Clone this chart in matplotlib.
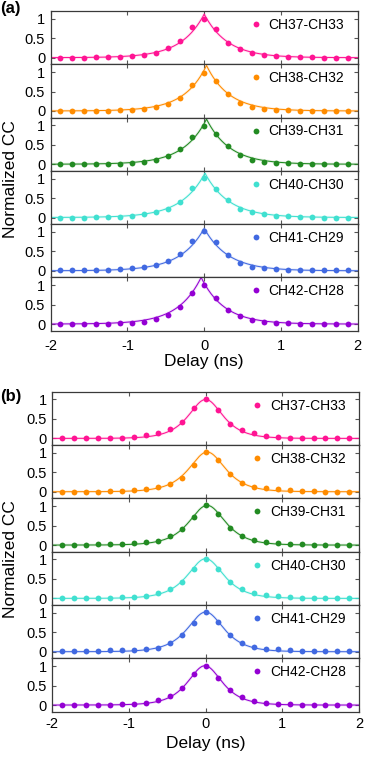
import matplotlib
matplotlib.use('Agg')
import matplotlib.pyplot as plt
import numpy as np

plt.rcParams['font.family'] = ['Liberation Sans', 'DejaVu Sans']
plt.rcParams['axes.unicode_minus'] = False

# sampling grid of the cross-correlation (6.4 GS/s)
delay = np.arange(-12, 13) / 6.4

pairs = ['CH37-CH33', 'CH38-CH32', 'CH39-CH31', 'CH40-CH30', 'CH41-CH29', 'CH42-CH28']
colors = ['#ff1493', '#ff8c00', '#228b22', '#40e0d0', '#4169e1', '#9400d3']

# panel (a) measured points
a_ch37 = [0, 0, 0, 0.005, 0.01, 0.02, 0.035, 0.07, 0.13, 0.25, 0.43, 0.79, 1.0,
          0.73, 0.38, 0.22, 0.12, 0.07, 0.035, 0.02, 0.01, 0.005, 0, 0, 0]
a_ch38 = [0, 0, 0, 0.005, 0.01, 0.02, 0.035, 0.06, 0.10, 0.17, 0.34, 0.66, 0.98,
          0.78, 0.43, 0.21, 0.11, 0.06, 0.035, 0.02, 0.01, 0.005, 0, 0, 0]
a_ch39 = [0, 0, 0, 0.005, 0.01, 0.01, 0.03, 0.05, 0.11, 0.21, 0.39, 0.70, 0.99,
          0.78, 0.46, 0.23, 0.10, 0.05, 0.03, 0.02, 0.01, 0.005, 0, 0, 0]
a_ch40 = [0, 0, 0, 0.005, 0.01, 0.025, 0.05, 0.08, 0.14, 0.23, 0.40, 0.75, 1.01,
          0.74, 0.44, 0.23, 0.14, 0.08, 0.05, 0.03, 0.01, 0.005, 0, 0, 0]
a_ch41 = [0.01, 0.01, 0.01, 0.015, 0.02, 0.035, 0.06, 0.09, 0.14, 0.24, 0.44, 0.76, 1.02,
          0.74, 0.41, 0.21, 0.11, 0.07, 0.05, 0.03, 0.02, 0.01, 0.01, 0.01, 0.01]
a_ch42 = [0, 0, 0, 0.005, 0.01, 0.02, 0.035, 0.06, 0.12, 0.23, 0.43, 0.79, 1.0,
          0.67, 0.36, 0.20, 0.10, 0.05, 0.035, 0.02, 0.01, 0.005, 0, 0, 0]

# panel (b) measured points
b_ch37 = [0, 0, 0, 0.005, 0.01, 0.02, 0.04, 0.08, 0.13, 0.24, 0.43, 0.78, 1.01,
          0.73, 0.38, 0.22, 0.13, 0.07, 0.04, 0.02, 0.01, 0.005, 0, 0, 0]
b_ch38 = [0, 0, 0, 0.005, 0.01, 0.025, 0.045, 0.07, 0.11, 0.20, 0.36, 0.68, 1.01,
          0.81, 0.45, 0.22, 0.13, 0.09, 0.07, 0.04, 0.02, 0.01, 0.005, 0, 0]
b_ch39 = [0.01, 0.01, 0.01, 0.015, 0.02, 0.035, 0.05, 0.07, 0.10, 0.23, 0.40, 0.72, 1.02,
          0.81, 0.45, 0.24, 0.13, 0.08, 0.06, 0.03, 0.02, 0.01, 0.01, 0.01, 0.01]
b_ch40 = [0, 0, 0, 0.005, 0.01, 0.025, 0.045, 0.07, 0.13, 0.24, 0.41, 0.76, 1.02,
          0.75, 0.43, 0.23, 0.14, 0.10, 0.05, 0.03, 0.02, 0.01, 0.005, 0, 0]
b_ch41 = [0.02, 0.02, 0.02, 0.03, 0.04, 0.05, 0.05, 0.07, 0.10, 0.23, 0.44, 0.74, 1.03,
          0.77, 0.43, 0.22, 0.12, 0.08, 0.07, 0.04, 0.03, 0.02, 0.02, 0.02, 0.02]
b_ch42 = [0, 0, 0, 0.005, 0.01, 0.025, 0.035, 0.05, 0.12, 0.23, 0.44, 0.80, 1.01,
          0.70, 0.38, 0.21, 0.11, 0.06, 0.035, 0.02, 0.01, 0.005, 0, 0, 0]

a_points = [a_ch37, a_ch38, a_ch39, a_ch40, a_ch41, a_ch42]
b_points = [b_ch37, b_ch38, b_ch39, b_ch40, b_ch41, b_ch42]

# fitted parameters: (amplitude, centre, width)
a_fit = [(1.12, 0.0, 0.30), (1.17, 0.03, 0.29), (1.16, 0.03, 0.30),
         (1.14, 0.01, 0.31), (1.09, 0.0, 0.31), (1.20, -0.04, 0.30)]
b_fit = [(1.00, 0.0, 0.20), (1.02, 0.02, 0.21), (1.02, 0.02, 0.21),
         (1.02, 0.0, 0.21), (1.02, 0.0, 0.21), (1.01, -0.01, 0.20)]


def exp_fit(x, amp, x0, tau):
    return amp * np.exp(-np.abs(x - x0) / tau)


def sech_fit(x, amp, x0, w):
    return amp / np.cosh((x - x0) / w)


fig = plt.figure(figsize=(3.74, 7.6), dpi=100)
spine_col = '#3a3a3a'
xfine = np.linspace(-2, 2, 801)


def draw_group(left, right, top, bottom, points, fits, model, tag, tag_y, ylab_y,
               xpad, labelpad):
    h = (top - bottom) / 6
    axes = []
    for i in range(6):
        ax = fig.add_axes([left, top - (i + 1) * h, right - left, h])
        amp, x0, w = fits[i]
        yfit = model(xfine, amp, x0, w)
        ax.plot(xfine, yfit, color=colors[i], lw=2.0, alpha=0.12, solid_capstyle='butt')
        ax.plot(xfine, yfit, color=colors[i], lw=0.75)
        ax.plot(delay, points[i], 'o', color=colors[i], ms=4.2, mew=0, label=pairs[i])
        ax.set_xlim(-2, 2)
        ax.set_ylim(-0.17, 1.2)
        ax.set_xticks([-2, -1, 0, 1, 2])
        ax.set_yticks([0, 0.5, 1])
        ax.set_yticklabels(['0', '0.5', '1'])
        ax.tick_params(direction='in', length=3, width=0.8, color='#555555',
                       top=True, right=True, labelsize=10.5)
        ax.tick_params(axis='y', pad=4)
        ax.tick_params(axis='x', pad=xpad)
        for s in ax.spines.values():
            s.set_color(spine_col)
            s.set_linewidth(0.9)
        if i < 5:
            ax.tick_params(labelbottom=False)
        ax.legend(loc='center left', bbox_to_anchor=(0.655, 0.74), frameon=False,
                  handlelength=0.6, handletextpad=0.6, borderpad=0, borderaxespad=0,
                  fontsize=10)
        axes.append(ax)
    axes[-1].set_xlabel('Delay (ns)', fontsize=12.5, labelpad=labelpad)
    fig.text(0.028, ylab_y, 'Normalized CC', rotation=90, fontsize=12.5,
             ha='center', va='center')
    fig.text(0.0, tag_y, tag, fontsize=12, fontweight='bold', ha='left', va='center')
    return axes


draw_group(0.1356, 0.9564, 0.9855, 0.5649, a_points, a_fit, exp_fit, '(a)',
           0.9888, 0.7645, 6, 1)
draw_group(0.1398, 0.9600, 0.4846, 0.0636, b_points, b_fit, sech_fit, '(b)',
           0.4783, 0.2645, 3.5, 4)

fig.savefig('out.png', dpi=100, facecolor='white')
